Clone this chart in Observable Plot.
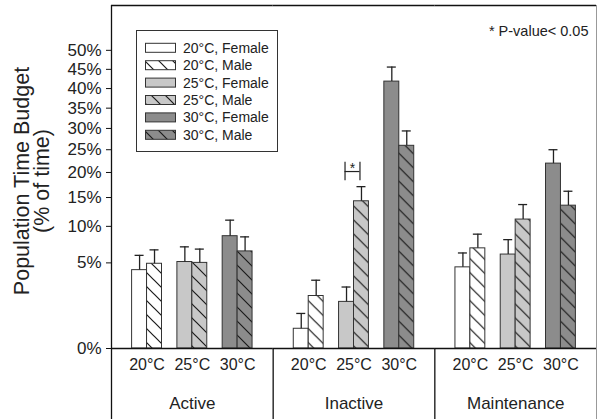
<!DOCTYPE html>
<html><head><meta charset="utf-8">
<script src="https://cdn.jsdelivr.net/npm/d3@7"></script>
<script src="https://cdn.jsdelivr.net/npm/@observablehq/plot@0.6"></script>
<style>body{margin:0;background:#fff} svg{display:block}</style>
</head><body><div id="chart"></div>
<script>
// ---- data ----
const categories = ["Active", "Inactive", "Maintenance"];
const temps = ["20°C", "25°C", "30°C"];
const sexes = ["Female", "Male"];
// order per category: 20F, 20M, 25F, 25M, 30F, 30M  (% of time)
const activeMeans    = [4.2, 4.9, 5.1, 5.0, 8.5, 6.4];
const activeErrTop   = [5.9, 6.6, 7.0, 6.7, 11.0, 8.4];
const inactiveMeans  = [0.27, 1.9, 1.5, 14.3, 41.8, 25.9];
const inactiveErrTop = [0.85, 3.2, 2.6, 17.1, 45.6, 29.4];
const maintMeans     = [4.5, 6.8, 6.0, 11.1, 21.9, 13.5];
const maintErrTop    = [6.2, 8.8, 8.0, 13.7, 25.0, 16.2];
const yTickValues = [0, 5, 10, 15, 20, 25, 30, 35, 40, 45, 50];
const yTickLabels = ["0%", "5%", "10%", "15%", "20%", "25%", "30%", "35%", "40%", "45%", "50%"];
const yMaxPercent = 61.7;
const legendLabels = ["20°C, Female", "20°C, Male", "25°C, Female", "25°C, Male", "30°C, Female", "30°C, Male"];
const significance = [{category: "Inactive", temp: "25°C", low: 18.3, mid: 20.2, high: 22.2, label: "*"}];
const noteText = "* P-value< 0.05";
const yTitle = "Population Time Budget\n(% of time)";

// ---- styling ----
const femaleFills = ["#ffffff", "#c8c8c8", "#8c8c8c"];
const maleFills = ["url(#hatch0)", "url(#hatch1)", "url(#hatch2)"];
const W = 603, H = 419, mL = 111, mR = 7, mT = 5, mB = 71;
const pI = 0.34, pO = 0.455;
const facetW = (W - mL - mR) / categories.length;
const step = facetW / (temps.length - pI + 2 * pO);
const bw = step * (1 - pI);
const half = bw / 2;
const capHalf = 4.5;

// arcsine square-root transform of the percentage axis
const f = p => Math.asin(Math.sqrt(Math.max(0, p) / 100));
const yTop = f(yMaxPercent);
const yBottom = -yTop * mB / (H - mT - mB);

const series = {Active: [activeMeans, activeErrTop], Inactive: [inactiveMeans, inactiveErrTop], Maintenance: [maintMeans, maintErrTop]};
const rows = [];
for (const c of categories) {
  const [m, e] = series[c];
  m.forEach((v, i) => rows.push({category: c, temp: temps[Math.floor(i / 2)], sex: sexes[i % 2], mean: v, errTop: e[i]}));
}
const fem = rows.filter(d => d.sex === "Female");
const mal = rows.filter(d => d.sex === "Male");
const frameLines = [
  {category: "Active", from: yTop},
  {category: "Inactive", from: 0},
  {category: "Maintenance", from: 0}
];
const rightLine = [{category: "Maintenance", from: yTop}];
const tickMap = new Map(yTickValues.map((v, i) => [f(v), yTickLabels[i]]));

function defs() {
  const d = d3.create("svg:defs");
  const bases = ["#ffffff", "#c8c8c8", "#8c8c8c"];
  bases.forEach((b, i) => {
    const p = d.append("pattern").attr("id", "hatch" + i).attr("patternUnits", "userSpaceOnUse")
      .attr("width", 14).attr("height", 14);
    p.append("rect").attr("width", 14).attr("height", 14).attr("fill", b);
    p.append("path").attr("d", "M-1,-1L15,15M13,-1L15,1M-1,13L1,15")
      .attr("stroke", "#1a1a1a").attr("stroke-width", 1.2);
  });
  return d.node();
}

const font = "'Liberation Sans', Arial, Helvetica, sans-serif";
const plot = Plot.plot({
  width: W, height: H,
  marginLeft: mL, marginRight: mR, marginTop: mT, marginBottom: mB,
  style: {fontFamily: font, color: "#222", background: "white", overflow: "visible"},
  fx: {domain: categories, paddingInner: 0, paddingOuter: 0, round: false, label: null},
  x: {domain: temps, paddingInner: pI, paddingOuter: pO, round: false, label: null},
  y: {domain: [0, yTop], label: null},
  color: {type: "identity"},
  marks: [
    defs,
    Plot.barY(fem, {fx: "category", x: "temp", y1: 0, y2: d => f(d.mean), fill: d => femaleFills[temps.indexOf(d.temp)], stroke: "#333", strokeWidth: 1, insetRight: half}),
    Plot.barY(mal, {fx: "category", x: "temp", y1: 0, y2: d => f(d.mean), fill: d => maleFills[temps.indexOf(d.temp)], stroke: "#333", strokeWidth: 1, insetLeft: half}),
    Plot.ruleX(fem, {fx: "category", x: "temp", y1: d => f(d.mean), y2: d => f(d.errTop), dx: -half / 2, stroke: "#222", strokeWidth: 1.3}),
    Plot.ruleX(mal, {fx: "category", x: "temp", y1: d => f(d.mean), y2: d => f(d.errTop), dx: half / 2, stroke: "#222", strokeWidth: 1.3}),
    Plot.tickY(fem, {fx: "category", x: "temp", y: d => f(d.errTop), insetLeft: half / 2 - capHalf, insetRight: 1.5 * half - capHalf, stroke: "#222", strokeWidth: 1.3}),
    Plot.tickY(mal, {fx: "category", x: "temp", y: d => f(d.errTop), insetLeft: 1.5 * half - capHalf, insetRight: half / 2 - capHalf, stroke: "#222", strokeWidth: 1.3}),
    // significance bracket
    Plot.tickY(significance, {fx: "category", x: "temp", y: d => f(d.mid), insetLeft: half / 2 - 1.5, insetRight: half / 2 + 1.5, stroke: "#222", strokeWidth: 1.2}),
    Plot.ruleX(significance, {fx: "category", x: "temp", y1: d => f(d.low), y2: d => f(d.high), dx: -half / 2 - 1.5, stroke: "#222", strokeWidth: 1.2}),
    Plot.ruleX(significance, {fx: "category", x: "temp", y1: d => f(d.low), y2: d => f(d.high), dx: half / 2 - 1.5, stroke: "#222", strokeWidth: 1.2}),
    Plot.text(significance, {fx: "category", x: "temp", y: d => f(d.mid), text: "label", dx: -1.5, dy: -3, fontSize: 14, fill: "#222"}),
    // frame lines
    Plot.ruleY([0], {stroke: "#111", strokeWidth: 1.3}),
    Plot.ruleY([yTop], {stroke: "#111", strokeWidth: 1.3}),
    Plot.ruleX(frameLines, {fx: "category", x: () => temps[1], y1: "from", y2: yBottom, dx: -facetW / 2, stroke: "#111", strokeWidth: 1.3}),
    Plot.ruleX(rightLine, {fx: "category", x: () => temps[1], y1: "from", y2: yBottom, dx: facetW / 2, stroke: "#999", strokeWidth: 1}),
    // axes
    Plot.axisY(yTickValues.map(f), {tickFormat: d => tickMap.get(d), tickSize: 5, tickPadding: 5, fontSize: 17, stroke: "#111", fill: "#222", label: null}),
    Plot.axisX({tickSize: 0, tickPadding: 10, fontSize: 16, fill: "#222", label: null}),
    Plot.axisFx({anchor: "bottom", tickSize: 0, tickPadding: 48, fontSize: 17, fill: "#222", label: null}),
    // y title
    Plot.text([{category: "Active", t: yTitle}], {fx: "category", text: "t", frameAnchor: "left", textAnchor: "middle", rotate: -90, dx: -79, dy: 4, lineAnchor: "middle", lineHeight: 0.92, fontSize: 21.5, fill: "#222"}),
    // note
    Plot.text([{category: "Maintenance", t: noteText}], {fx: "category", text: "t", frameAnchor: "top-right", textAnchor: "end", dx: -8, dy: 20, fontSize: 14.5, fill: "#222"})
  ]
});

// legend
const svg = d3.select(plot);
const lg = svg.append("g").attr("font-family", font).attr("font-size", 14).attr("fill", "#222").attr("text-anchor", "start");
lg.append("rect").attr("x", 136.5).attr("y", 30.5).attr("width", 141).attr("height", 121)
  .attr("fill", "white").attr("stroke", "#333").attr("stroke-width", 1);
legendLabels.forEach((lab, i) => {
  const t = Math.floor(i / 2), male = i % 2 === 1;
  const cy = 47.8 + i * 17.4;
  lg.append("rect").attr("x", 145.5).attr("y", cy - 4.5).attr("width", 30).attr("height", 9)
    .attr("fill", male ? maleFills[t] : femaleFills[t]).attr("stroke", "#333").attr("stroke-width", 1);
  lg.append("text").attr("x", 183).attr("y", cy).attr("dy", "0.35em").attr("text-anchor", "start").text(lab);
});

document.getElementById("chart").append(plot);
</script>
</body></html>
